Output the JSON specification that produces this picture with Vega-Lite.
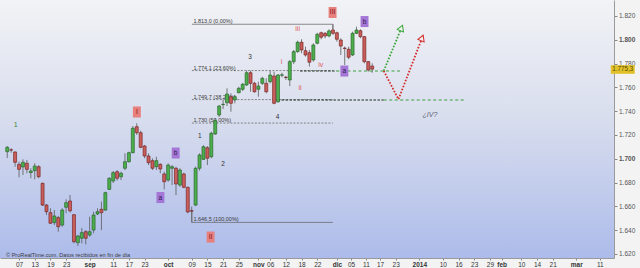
{
  "$schema": "https://vega.github.io/schema/vega-lite/v6.json",
  "width": 614,
  "height": 258,
  "autosize": {"type": "none"},
  "padding": {"left": 0, "top": 0, "right": 26, "bottom": 10},
  "background": "#f3f3f4",
  "config": {
    "view": {"stroke": null},
    "font": "Liberation Sans",
    "axis": {"grid": false, "labelOverlap": false, "labelFlush": false}
  },
  "datasets": {
    "velas": [
      {"t":1,"o":1.7059,"h":1.7107,"l":1.7006,"c":1.7096},
      {"t":2,"o":1.7075,"h":1.7088,"l":1.7051,"c":1.7073},
      {"t":3,"o":1.7057,"h":1.7061,"l":1.6933,"c":1.6970},
      {"t":4,"o":1.6953,"h":1.6975,"l":1.6844,"c":1.6911},
      {"t":5,"o":1.6931,"h":1.6995,"l":1.6863,"c":1.6970},
      {"t":6,"o":1.6962,"h":1.6990,"l":1.6878,"c":1.6911},
      {"t":7,"o":1.6884,"h":1.6920,"l":1.6836,"c":1.6897},
      {"t":8,"o":1.6900,"h":1.6962,"l":1.6827,"c":1.6939},
      {"t":9,"o":1.6933,"h":1.6947,"l":1.6836,"c":1.6849},
      {"t":10,"o":1.6794,"h":1.6799,"l":1.6603,"c":1.6611},
      {"t":11,"o":1.6611,"h":1.6620,"l":1.6527,"c":1.6555},
      {"t":12,"o":1.6547,"h":1.6584,"l":1.6452,"c":1.6458},
      {"t":13,"o":1.6463,"h":1.6569,"l":1.6443,"c":1.6519},
      {"t":14,"o":1.6505,"h":1.6519,"l":1.6387,"c":1.6429},
      {"t":15,"o":1.6443,"h":1.6584,"l":1.6429,"c":1.6569},
      {"t":16,"o":1.6592,"h":1.6659,"l":1.6542,"c":1.6631},
      {"t":17,"o":1.6645,"h":1.6695,"l":1.6547,"c":1.6563},
      {"t":18,"o":1.6530,"h":1.6532,"l":1.6290,"c":1.6303},
      {"t":19,"o":1.6295,"h":1.6359,"l":1.6267,"c":1.6351},
      {"t":20,"o":1.6332,"h":1.6418,"l":1.6290,"c":1.6379},
      {"t":21,"o":1.6387,"h":1.6401,"l":1.6281,"c":1.6332},
      {"t":22,"o":1.6359,"h":1.6513,"l":1.6345,"c":1.6387},
      {"t":23,"o":1.6401,"h":1.6555,"l":1.6374,"c":1.6527},
      {"t":24,"o":1.6536,"h":1.6584,"l":1.6527,"c":1.6555},
      {"t":25,"o":1.6575,"h":1.6639,"l":1.6401,"c":1.6547},
      {"t":26,"o":1.6569,"h":1.6723,"l":1.6563,"c":1.6715},
      {"t":27,"o":1.6743,"h":1.6844,"l":1.6737,"c":1.6836},
      {"t":28,"o":1.6813,"h":1.6897,"l":1.6796,"c":1.6883},
      {"t":29,"o":1.6891,"h":1.6905,"l":1.6816,"c":1.6836},
      {"t":30,"o":1.6849,"h":1.6891,"l":1.6821,"c":1.6878},
      {"t":31,"o":1.6920,"h":1.7046,"l":1.6905,"c":1.6975},
      {"t":32,"o":1.6975,"h":1.7059,"l":1.6967,"c":1.7051},
      {"t":33,"o":1.7051,"h":1.7275,"l":1.7046,"c":1.7256},
      {"t":34,"o":1.7269,"h":1.7298,"l":1.7200,"c":1.7219},
      {"t":35,"o":1.7219,"h":1.7236,"l":1.7088,"c":1.7096},
      {"t":36,"o":1.7107,"h":1.7116,"l":1.7004,"c":1.7023},
      {"t":37,"o":1.7023,"h":1.7046,"l":1.6947,"c":1.6967},
      {"t":38,"o":1.6984,"h":1.7004,"l":1.6905,"c":1.6920},
      {"t":39,"o":1.6933,"h":1.7017,"l":1.6905,"c":1.6984},
      {"t":40,"o":1.6953,"h":1.6962,"l":1.6878,"c":1.6914},
      {"t":41,"o":1.6872,"h":1.6891,"l":1.6743,"c":1.6807},
      {"t":42,"o":1.6821,"h":1.6962,"l":1.6807,"c":1.6947},
      {"t":43,"o":1.6920,"h":1.6947,"l":1.6779,"c":1.6933},
      {"t":44,"o":1.6920,"h":1.6933,"l":1.6695,"c":1.6788},
      {"t":45,"o":1.6779,"h":1.6920,"l":1.6765,"c":1.6905},
      {"t":46,"o":1.6872,"h":1.6883,"l":1.6752,"c":1.6760},
      {"t":47,"o":1.6760,"h":1.6765,"l":1.6542,"c":1.6553},
      {"t":48,"o":1.6563,"h":1.6597,"l":1.6465,"c":1.6560},
      {"t":49,"o":1.6611,"h":1.6933,"l":1.6603,"c":1.6920},
      {"t":50,"o":1.6920,"h":1.7046,"l":1.6900,"c":1.7032},
      {"t":51,"o":1.6995,"h":1.7113,"l":1.6990,"c":1.7101},
      {"t":52,"o":1.7093,"h":1.7107,"l":1.6947,"c":1.7004},
      {"t":53,"o":1.7017,"h":1.7227,"l":1.7004,"c":1.7214},
      {"t":54,"o":1.7208,"h":1.7340,"l":1.7200,"c":1.7320},
      {"t":55,"o":1.7368,"h":1.7452,"l":1.7351,"c":1.7443},
      {"t":56,"o":1.7455,"h":1.7494,"l":1.7418,"c":1.7458},
      {"t":57,"o":1.7471,"h":1.7592,"l":1.7443,"c":1.7544},
      {"t":58,"o":1.7521,"h":1.7550,"l":1.7395,"c":1.7466},
      {"t":59,"o":1.7494,"h":1.7536,"l":1.7466,"c":1.7521},
      {"t":60,"o":1.7555,"h":1.7605,"l":1.7550,"c":1.7592},
      {"t":61,"o":1.7584,"h":1.7637,"l":1.7569,"c":1.7626},
      {"t":62,"o":1.7620,"h":1.7740,"l":1.7611,"c":1.7723},
      {"t":63,"o":1.7723,"h":1.7740,"l":1.7563,"c":1.7634},
      {"t":64,"o":1.7634,"h":1.7647,"l":1.7555,"c":1.7563},
      {"t":65,"o":1.7584,"h":1.7647,"l":1.7521,"c":1.7611},
      {"t":66,"o":1.7634,"h":1.7689,"l":1.7620,"c":1.7676},
      {"t":67,"o":1.7634,"h":1.7676,"l":1.7550,"c":1.7563},
      {"t":68,"o":1.7647,"h":1.7740,"l":1.7634,"c":1.7704},
      {"t":69,"o":1.7695,"h":1.7732,"l":1.7458,"c":1.7466},
      {"t":70,"o":1.7479,"h":1.7712,"l":1.7471,"c":1.7704},
      {"t":71,"o":1.7702,"h":1.7723,"l":1.7684,"c":1.7705},
      {"t":72,"o":1.7685,"h":1.7695,"l":1.7662,"c":1.7683},
      {"t":73,"o":1.7662,"h":1.7830,"l":1.7611,"c":1.7816},
      {"t":74,"o":1.7816,"h":1.7914,"l":1.7796,"c":1.7900},
      {"t":75,"o":1.7900,"h":1.7992,"l":1.7891,"c":1.7979},
      {"t":76,"o":1.7979,"h":1.8004,"l":1.7886,"c":1.7914},
      {"t":77,"o":1.7908,"h":1.7942,"l":1.7858,"c":1.7872},
      {"t":78,"o":1.7891,"h":1.7914,"l":1.7774,"c":1.7811},
      {"t":79,"o":1.7830,"h":1.7970,"l":1.7816,"c":1.7956},
      {"t":80,"o":1.7970,"h":1.8059,"l":1.7962,"c":1.8046},
      {"t":81,"o":1.8059,"h":1.8068,"l":1.8004,"c":1.8021},
      {"t":82,"o":1.8054,"h":1.8065,"l":1.8012,"c":1.8032},
      {"t":83,"o":1.8032,"h":1.8088,"l":1.8021,"c":1.8074},
      {"t":84,"o":1.8082,"h":1.8130,"l":1.8040,"c":1.8054},
      {"t":85,"o":1.8059,"h":1.8068,"l":1.7984,"c":1.8004},
      {"t":86,"o":1.7998,"h":1.8012,"l":1.7872,"c":1.7947},
      {"t":87,"o":1.7930,"h":1.7942,"l":1.7788,"c":1.7927},
      {"t":88,"o":1.7920,"h":1.7942,"l":1.7836,"c":1.7853},
      {"t":89,"o":1.7872,"h":1.8068,"l":1.7863,"c":1.8054},
      {"t":90,"o":1.8054,"h":1.8110,"l":1.8048,"c":1.8082},
      {"t":91,"o":1.8076,"h":1.8088,"l":1.8012,"c":1.8026},
      {"t":92,"o":1.8026,"h":1.8032,"l":1.7802,"c":1.7816},
      {"t":93,"o":1.7816,"h":1.7821,"l":1.7732,"c":1.7746},
      {"t":94,"o":1.7779,"h":1.7802,"l":1.7723,"c":1.7753}
    ],
    "fib": [
      {"nivel":1.8130,"pct":0,"texto":"1.813,0 (0,00%)","t1":48.05,"t2":83.98},
      {"nivel":1.7741,"pct":23.6,"texto":"1.774,1 (23,60%)","t1":48.05,"t2":83.98},
      {"nivel":1.7497,"pct":38.2,"texto":"1.749,7 (38,20%)","t1":48.05,"t2":83.98},
      {"nivel":1.7300,"pct":50,"texto":"1.730 (50,00%)","t1":48.05,"t2":83.98},
      {"nivel":1.6465,"pct":100,"texto":"1.646,5 (100,00%)","t1":48.05,"t2":83.98}
    ],
    "fibAnclas": [
      {"t":48.05,"v1":1.6465,"v2":1.6565},
      {"t":83.98,"v1":1.8130,"v2":1.8088}
    ],
    "niveles": [
      {"grupo":"base","t1":75.63,"t2":84.9,"v":1.7738},
      {"grupo":"objetivo","t1":84.9,"t2":101.45,"v":1.7738},
      {"grupo":"base","t1":69.86,"t2":96.94,"v":1.7494},
      {"grupo":"objetivo","t1":96.94,"t2":117.75,"v":1.7494}
    ],
    "proyecciones": [
      {"escenario":"alcista","orden":1,"t":96.94,"v":1.7738},
      {"escenario":"alcista","orden":2,"t":101.45,"v":1.8099},
      {"escenario":"bajista","orden":1,"t":96.94,"v":1.7738},
      {"escenario":"bajista","orden":2,"t":100.7,"v":1.7500},
      {"escenario":"bajista","orden":3,"t":106.72,"v":1.8015}
    ],
    "cajas": [
      {"texto":"I","t":34.02,"v":1.7393,"grupo":"roja"},
      {"texto":"II","t":52.82,"v":1.6342,"grupo":"roja"},
      {"texto":"III","t":83.9,"v":1.8229,"grupo":"roja"},
      {"texto":"a","t":40.03,"v":1.6674,"grupo":"morada"},
      {"texto":"b","t":43.92,"v":1.7048,"grupo":"morada"},
      {"texto":"a","t":86.91,"v":1.7737,"grupo":"morada"},
      {"texto":"b","t":92.05,"v":1.8153,"grupo":"morada"}
    ],
    "etiquetas": [
      {"texto":"1","t":3.18,"v":1.7284,"grupo":"verde"},
      {"texto":"1","t":50.06,"v":1.7191,"grupo":"negra"},
      {"texto":"2","t":56.0,"v":1.6956,"grupo":"negra"},
      {"texto":"3","t":62.85,"v":1.7851,"grupo":"negra"},
      {"texto":"4","t":69.86,"v":1.7351,"grupo":"negra"},
      {"texto":"i","t":70.87,"v":1.7813,"grupo":"roja"},
      {"texto":"ii","t":75.63,"v":1.7595,"grupo":"roja"},
      {"texto":"iii","t":75.0,"v":1.8090,"grupo":"roja"},
      {"texto":"iv","t":80.9,"v":1.7788,"grupo":"roja"},
      {"texto":"¿IV?","t":108.72,"v":1.7368,"grupo":"duda"}
    ],
    "marca": [
      {"t":0.67,"v":1.6191,"texto":"© ProRealTime.com. Datos recibidos en fin de día"}
    ],
    "precio": [
      {"t":157.86,"v":1.7750,"texto":"1.775,3"}
    ]
  },
  "layer": [
    {
      "data": {"values": [{}]},
      "mark": {"type": "rect", "color": {"gradient": "linear", "x1": 0, "y1": 0, "x2": 0, "y2": 1, "stops": [{"offset": 0, "color": "#f2f3f6"}, {"offset": 0.45, "color": "#d9deee"}, {"offset": 1, "color": "#acbbea"}]}}
    },
    {
      "data": {"name": "velas"},
      "mark": {"type": "rule", "color": "#5a5a5a", "strokeWidth": 0.8},
      "encoding": {
        "x": {
          "field": "t", "type": "quantitative", "title": null,
          "scale": {"domain": [0.424, 154.35], "nice": false, "zero": false},
          "axis": {
            "title": null,
            "values": [4,8,12,16,22,28,32,36,42,48,52,56,60,65,68,72,76,80,85,88.6,92.4,96,100,106,112,116,120,124,127,132,136,140,146,152],
            "tickCount": 500,
            "labelExpr": "['07','13','19','23','sep','11','17','23','oct','09','15','21','25','nov','06','12','18','22','dic','05','11','17','23','2014','10','16','23','29','feb','10','14','21','mar','11'][indexof([4,8,12,16,22,28,32,36,42,48,52,56,60,65,68,72,76,80,85,88.6,92.4,96,100,106,112,116,120,124,127,132,136,140,146,152], datum.value)]",
            "labelFontSize": 6.5,
            "labelColor": "#333333",
            "labelFontWeight": {"condition": {"test": "indexof([22,42,65,85,106,127,146], datum.value) >= 0", "value": "bold"}, "value": "normal"},
            "labelPadding": 1,
            "labelFlush": false,
            "labelOverlap": false,
            "tickSize": 2,
            "tickColor": "#888888",
            "domainColor": "#9a9a9a",
            "grid": false
          }
        },
        "y": {
          "field": "l", "type": "quantitative", "title": null,
          "scale": {"domain": [1.6166, 1.8334], "nice": false, "zero": false},
          "axis": {
            "title": null,
            "orient": "right",
            "values": [1.62,1.64,1.66,1.68,1.7,1.72,1.74,1.76,1.78,1.8,1.82],
            "tickCount": 100,
            "format": ".3f",
            "labelFontSize": 6.5,
            "labelColor": "#555555",
            "labelFontWeight": {"condition": {"test": "abs(datum.value - 1.8) < 0.0001 || abs(datum.value - 1.7) < 0.0001", "value": "bold"}, "value": "normal"},
            "labelPadding": 1.5,
            "labelOverlap": false,
            "tickSize": 3,
            "tickColor": "#888888",
            "domainColor": "#9a9a9a",
            "grid": false
          }
        },
        "y2": {"field": "h"}
      }
    },
    {
      "data": {"name": "fib"},
      "mark": {"type": "rule", "color": "#6a6a6a", "strokeWidth": 0.8},
      "encoding": {
        "x": {"field": "t1", "type": "quantitative", "title": null},
        "x2": {"field": "t2"},
        "y": {"field": "nivel", "type": "quantitative", "title": null},
        "strokeDash": {"condition": {"test": "datum.pct == 0 || datum.pct == 100", "value": [1, 0]}, "value": [2, 1.5]}
      }
    },
    {
      "data": {"name": "fibAnclas"},
      "mark": {"type": "rule", "color": "#6a6a6a", "strokeWidth": 0.8},
      "encoding": {
        "x": {"field": "t", "type": "quantitative", "title": null},
        "y": {"field": "v1", "type": "quantitative", "title": null},
        "y2": {"field": "v2"}
      }
    },
    {
      "data": {"name": "fib"},
      "mark": {"type": "text", "align": "left", "baseline": "alphabetic", "dx": 1.5, "dy": -1, "fontSize": 5.5, "color": "#3a3a3a"},
      "encoding": {
        "x": {"field": "t1", "type": "quantitative", "title": null},
        "y": {"field": "nivel", "type": "quantitative", "title": null},
        "text": {"field": "texto"}
      }
    },
    {
      "data": {"name": "niveles"},
      "transform": [{"filter": "datum.grupo == 'base'"}],
      "mark": {"type": "rule", "color": "#1d2e1d", "strokeWidth": 1.1, "strokeDash": [2.5, 1.5]},
      "encoding": {
        "x": {"field": "t1", "type": "quantitative", "title": null},
        "x2": {"field": "t2"},
        "y": {"field": "v", "type": "quantitative", "title": null}
      }
    },
    {
      "data": {"name": "niveles"},
      "transform": [{"filter": "datum.grupo == 'objetivo'"}],
      "mark": {"type": "rule", "color": "#3e9e3e", "strokeWidth": 1.1, "strokeDash": [3, 2.5]},
      "encoding": {
        "x": {"field": "t1", "type": "quantitative", "title": null},
        "x2": {"field": "t2"},
        "y": {"field": "v", "type": "quantitative", "title": null}
      }
    },
    {
      "data": {"name": "velas"},
      "mark": {"type": "bar", "width": 3, "strokeWidth": 0.6},
      "encoding": {
        "x": {"field": "t", "type": "quantitative", "title": null},
        "y": {"field": "o", "type": "quantitative", "title": null},
        "y2": {"field": "c"},
        "fill": {"condition": {"test": "datum.c >= datum.o", "value": "#4cae4c"}, "value": "#c95f5b"},
        "stroke": {"condition": {"test": "datum.c >= datum.o", "value": "#1e5a1e"}, "value": "#6e1616"}
      }
    },
    {
      "data": {"name": "proyecciones"},
      "transform": [{"filter": "datum.escenario == 'alcista'"}],
      "mark": {"type": "line", "color": "#3aa43a", "strokeWidth": 1.8, "strokeDash": [1.6, 1.6]},
      "encoding": {
        "x": {"field": "t", "type": "quantitative", "title": null},
        "y": {"field": "v", "type": "quantitative", "title": null},
        "order": {"field": "orden"}
      }
    },
    {
      "data": {"name": "proyecciones"},
      "transform": [{"filter": "datum.escenario == 'bajista'"}],
      "mark": {"type": "line", "color": "#d42a2a", "strokeWidth": 1.8, "strokeDash": [1.6, 1.6]},
      "encoding": {
        "x": {"field": "t", "type": "quantitative", "title": null},
        "y": {"field": "v", "type": "quantitative", "title": null},
        "order": {"field": "orden"}
      }
    },
    {
      "data": {"name": "proyecciones"},
      "transform": [{"filter": "datum.escenario == 'alcista' && datum.orden == 2"}],
      "mark": {"type": "point", "shape": "triangle-up", "size": 45, "filled": true, "fill": "#eef6ee", "stroke": "#3aa43a", "strokeWidth": 1, "angle": 22, "opacity": 1},
      "encoding": {
        "x": {"field": "t", "type": "quantitative", "title": null},
        "y": {"field": "v", "type": "quantitative", "title": null}
      }
    },
    {
      "data": {"name": "proyecciones"},
      "transform": [{"filter": "datum.escenario == 'bajista' && datum.orden == 3"}],
      "mark": {"type": "point", "shape": "triangle-up", "size": 45, "filled": true, "fill": "#f6eeee", "stroke": "#d42a2a", "strokeWidth": 1, "angle": 22, "opacity": 1},
      "encoding": {
        "x": {"field": "t", "type": "quantitative", "title": null},
        "y": {"field": "v", "type": "quantitative", "title": null}
      }
    },
    {
      "data": {"name": "cajas"},
      "mark": {"type": "point", "shape": "M-0.72,-1H0.72V1H-0.72Z", "size": 121, "filled": true, "opacity": 1, "strokeWidth": 0},
      "encoding": {
        "x": {"field": "t", "type": "quantitative", "title": null},
        "y": {"field": "v", "type": "quantitative", "title": null},
        "fill": {"condition": {"test": "datum.grupo == 'roja'", "value": "#e77f7c"}, "value": "#a476d6"}
      }
    },
    {
      "data": {"name": "cajas"},
      "mark": {"type": "text", "fontSize": 6.5, "baseline": "middle", "align": "center"},
      "encoding": {
        "x": {"field": "t", "type": "quantitative", "title": null},
        "y": {"field": "v", "type": "quantitative", "title": null},
        "text": {"field": "texto"},
        "color": {"condition": {"test": "datum.grupo == 'roja'", "value": "#7a1212"}, "value": "#2c1850"}
      }
    },
    {
      "data": {"name": "etiquetas"},
      "transform": [{"filter": "datum.grupo == 'negra'"}],
      "mark": {"type": "text", "fontSize": 6.5, "color": "#333333", "baseline": "middle"},
      "encoding": {
        "x": {"field": "t", "type": "quantitative", "title": null},
        "y": {"field": "v", "type": "quantitative", "title": null},
        "text": {"field": "texto"}
      }
    },
    {
      "data": {"name": "etiquetas"},
      "transform": [{"filter": "datum.grupo == 'roja'"}],
      "mark": {"type": "text", "fontSize": 7, "color": "#de5a5a", "baseline": "middle"},
      "encoding": {
        "x": {"field": "t", "type": "quantitative", "title": null},
        "y": {"field": "v", "type": "quantitative", "title": null},
        "text": {"field": "texto"}
      }
    },
    {
      "data": {"name": "etiquetas"},
      "transform": [{"filter": "datum.grupo == 'verde'"}],
      "mark": {"type": "text", "fontSize": 7, "color": "#2f8a2f", "baseline": "middle"},
      "encoding": {
        "x": {"field": "t", "type": "quantitative", "title": null},
        "y": {"field": "v", "type": "quantitative", "title": null},
        "text": {"field": "texto"}
      }
    },
    {
      "data": {"name": "etiquetas"},
      "transform": [{"filter": "datum.grupo == 'duda'"}],
      "mark": {"type": "text", "fontSize": 7, "color": "#5a5f70", "fontStyle": "italic", "baseline": "middle"},
      "encoding": {
        "x": {"field": "t", "type": "quantitative", "title": null},
        "y": {"field": "v", "type": "quantitative", "title": null},
        "text": {"field": "texto"}
      }
    },
    {
      "data": {"name": "marca"},
      "mark": {"type": "text", "fontSize": 5.6, "color": "#3a3a44", "align": "left", "baseline": "middle"},
      "encoding": {
        "x": {"field": "t", "type": "quantitative", "title": null},
        "y": {"field": "v", "type": "quantitative", "title": null},
        "text": {"field": "texto"}
      }
    },
    {
      "data": {"name": "precio"},
      "mark": {"type": "point", "shape": "M-1,-0.36H1V0.36H-1Z", "size": 576, "filled": true, "fill": "#e2c22a", "opacity": 1, "strokeWidth": 0},
      "encoding": {
        "x": {"field": "t", "type": "quantitative", "title": null},
        "y": {"field": "v", "type": "quantitative", "title": null}
      }
    },
    {
      "data": {"name": "precio"},
      "mark": {"type": "text", "fontSize": 6.3, "color": "#5a4a00", "baseline": "middle", "align": "center"},
      "encoding": {
        "x": {"field": "t", "type": "quantitative", "title": null},
        "y": {"field": "v", "type": "quantitative", "title": null},
        "text": {"field": "texto"}
      }
    }
  ]
}
